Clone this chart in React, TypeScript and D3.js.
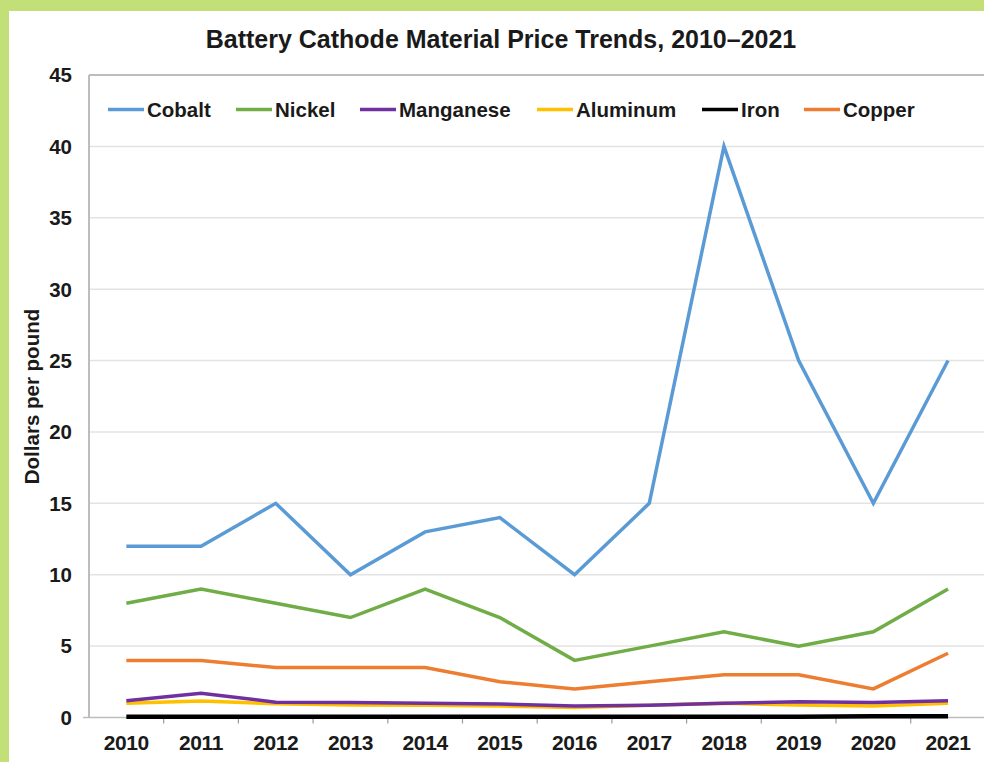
import React from 'react';
import * as d3 from 'd3';

const years = ['2010', '2011', '2012', '2013', '2014', '2015', '2016', '2017', '2018', '2019', '2020', '2021'];
const yTicks = [0, 5, 10, 15, 20, 25, 30, 35, 40, 45];

const cobalt = [12, 12, 15, 10, 13, 14, 10, 15, 40, 25, 15, 25];
const nickel = [8, 9, 8, 7, 9, 7, 4, 5, 6, 5, 6, 9];
const manganese = [1.18, 1.7, 1.07, 1.05, 1.0, 0.95, 0.8, 0.85, 1.0, 1.1, 1.05, 1.18];
const aluminum = [1.0, 1.15, 0.97, 0.88, 0.85, 0.8, 0.7, 0.85, 1.0, 0.87, 0.8, 1.0];
const iron = [0.05, 0.05, 0.05, 0.05, 0.05, 0.05, 0.05, 0.05, 0.05, 0.05, 0.08, 0.08];
const copper = [4, 4, 3.5, 3.5, 3.5, 2.5, 2, 2.5, 3, 3, 2, 4.5];

const seriesNames = ['Cobalt', 'Nickel', 'Manganese', 'Aluminum', 'Iron', 'Copper'];
const seriesColors = ['#5b9bd5', '#70ad47', '#7030a0', '#ffc000', '#000000', '#ed7d31'];
const seriesValues = [cobalt, nickel, manganese, aluminum, iron, copper];

const W = 984;
const H = 762;
const FONT = 'Arial, "Liberation Sans", Helvetica, sans-serif';

const App: React.FC = () => {
  const left = 89;
  const top = 75;
  const bottom = 717.5;

  const x = d3.scaleBand<string>().domain(years).range([left, left + 12 * 74.7]);
  const y = d3.scaleLinear().domain([0, 45]).range([bottom, top]);
  const cx = (yr: string) => (x(yr) ?? 0) + x.bandwidth() / 2;

  const line = d3.line<number>()
    .x((_, i) => cx(years[i]))
    .y((d) => y(d));

  // legend item x positions (line start)
  const legendX = [108, 236, 360, 537, 702, 804];
  const legendY = 109.5;

  // draw order: lower series first so cobalt/nickel sit on top like the original
  const drawOrder = [5, 4, 3, 2, 1, 0];

  return (
    <div style={{ position: 'absolute', left: 0, top: 0, width: W, height: H }}>
      <svg width={W} height={H} style={{ display: 'block', fontFamily: FONT }}>
        <rect x={0} y={0} width={W} height={H} fill="#c2df78" />
        <rect x={9} y={11} width={W - 9} height={H - 11} fill="#ffffff" />

        <text x={501} y={47.5} textAnchor="middle" fontSize={25} fontWeight="bold" fill="#1a1a1a">
          Battery Cathode Material Price Trends, 2010–2021
        </text>

        {/* gridlines */}
        {yTicks.filter((t) => t > 0 && t < 45).map((t) => (
          <line key={t} x1={left} x2={W} y1={y(t)} y2={y(t)} stroke="#e3e3e3" strokeWidth={1.5} />
        ))}
        <line x1={left} x2={W} y1={y(45)} y2={y(45)} stroke="#bdbdbd" strokeWidth={2} />
        <line x1={left} x2={left} y1={y(45)} y2={bottom} stroke="#bdbdbd" strokeWidth={2} />
        <line x1={left - 6} x2={W} y1={bottom} y2={bottom} stroke="#bdbdbd" strokeWidth={1.5} />

        {/* x ticks at band boundaries */}
        {years.slice(1).map((yr) => (
          <line key={yr} x1={x(yr)} x2={x(yr)} y1={bottom} y2={bottom + 6} stroke="#9a9a9a" strokeWidth={1.2} />
        ))}

        {/* y tick labels */}
        {yTicks.map((t) => (
          <text key={t} x={72} y={y(t)} dy="0.36em" textAnchor="end" fontSize={20.5} fontWeight="bold" fill="#1a1a1a">
            {t}
          </text>
        ))}

        {/* x tick labels */}
        {years.map((yr) => (
          <text key={yr} x={cx(yr)} y={750} textAnchor="middle" fontSize={21} fontWeight="bold" fill="#1a1a1a"
            style={{ letterSpacing: '-0.4px' }}>
            {yr}
          </text>
        ))}

        <text transform={`translate(39,396.5) rotate(-90)`} textAnchor="middle" fontSize={20.5} fontWeight="bold" fill="#1a1a1a">
          Dollars per pound
        </text>

        {/* series */}
        {drawOrder.map((i) => (
          <path key={seriesNames[i]} d={line(seriesValues[i]) ?? ''} fill="none" stroke={seriesColors[i]}
            strokeWidth={seriesNames[i] === 'Iron' ? 4.5 : 3.5} strokeLinejoin="miter" />
        ))}

        {/* legend */}
        {seriesNames.map((name, i) => (
          <g key={name} transform={`translate(${legendX[i]},${legendY})`}>
            <line x1={0} x2={36} y1={0} y2={0} stroke={seriesColors[i]} strokeWidth={3.5} />
            <text x={39} y={0} dy="0.36em" fontSize={20.5} fontWeight="bold" fill="#1a1a1a">{name}</text>
          </g>
        ))}
      </svg>
    </div>
  );
};

export default App;
